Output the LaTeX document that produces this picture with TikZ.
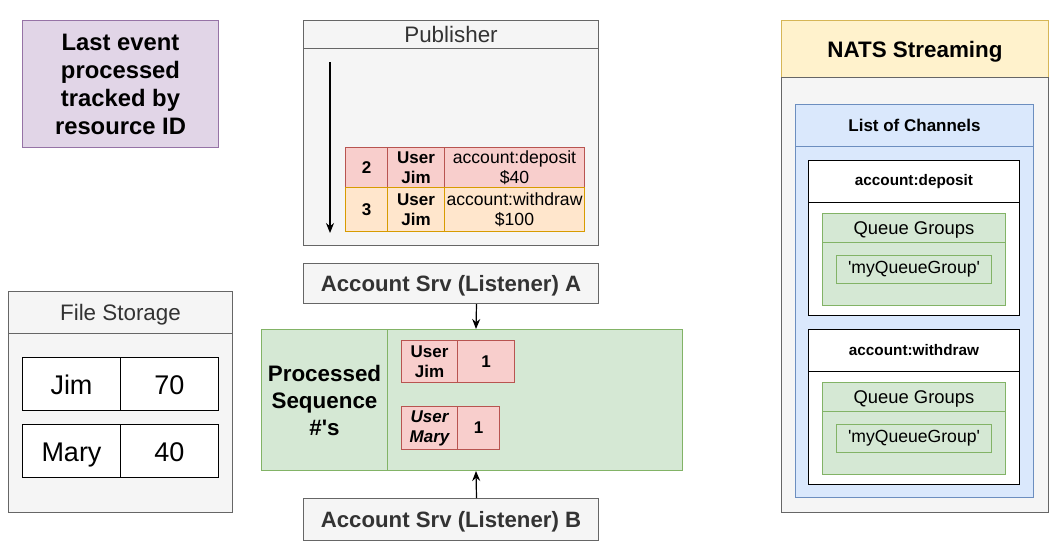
\documentclass[tikz,border=0pt]{standalone}
\usepackage{fontspec}
\setmainfont{Liberation Sans}
\usetikzlibrary{arrows.meta,calc}
\definecolor{purF}{HTML}{E1D5E7}\definecolor{purD}{HTML}{9673A6}
\definecolor{gryF}{HTML}{F5F5F5}\definecolor{gryD}{HTML}{666666}
\definecolor{redF}{HTML}{F8CECC}\definecolor{redD}{HTML}{B85450}
\definecolor{orgF}{HTML}{FFE6CC}\definecolor{orgD}{HTML}{D79B00}
\definecolor{grnF}{HTML}{D5E8D4}\definecolor{grnD}{HTML}{82B366}
\definecolor{ylwF}{HTML}{FFF2CC}\definecolor{ylwD}{HTML}{D6B656}
\definecolor{bluF}{HTML}{DAE8FC}\definecolor{bluD}{HTML}{6C8EBF}
\definecolor{txtG}{HTML}{333333}
\tikzset{
  cell/.style={draw, line width=1pt, inner sep=0pt, anchor=north west, align=center},
  purbox/.style={cell, fill=purF, draw=purD},
  grybox/.style={cell, fill=gryF, draw=gryD},
  redbox/.style={cell, fill=redF, draw=redD},
  orgbox/.style={cell, fill=orgF, draw=orgD},
  grnbox/.style={cell, fill=grnF, draw=grnD},
  ylwbox/.style={cell, fill=ylwF, draw=ylwD},
  blubox/.style={cell, fill=bluF, draw=bluD},
  whtbox/.style={cell, fill=white, draw=black},
  wh/.style 2 args={minimum width=#1pt, minimum height=#2pt},
  title/.style={font=\fontsize{22.4}{26}\selectfont, text=txtG, text height=17pt, text depth=1pt},
  srv/.style={font=\fontsize{22.2}{26}\selectfont\bfseries, text=txtG, text height=17pt, text depth=1pt},
  tbl/.style={font=\fontsize{17.6}{20}\selectfont},
  tblb/.style={font=\fontsize{17}{20}\selectfont\bfseries},
  big/.style={font=\fontsize{27}{30}\selectfont, text height=23pt, text depth=2pt},
  qg/.style={font=\fontsize{18.4}{21}\selectfont, text height=14pt, text depth=1pt},
  arrow/.style={-{Stealth[length=10pt,width=8pt]}, line width=1.2pt},
}
\begin{document}
\begin{tikzpicture}[x=1pt,y=-1pt]
\useasboundingbox (0,0) rectangle (1061,558);
\fill[white] (0,0) rectangle (1061,558);

% tracking note
\node[purbox, wh={196}{127}, font=\fontsize{23.8}{28}\selectfont\bfseries] (track) at (22,20)
  {Last event\\processed\\tracked by\\resource ID};

% Publisher
\node[grybox, wh={295}{28}, title] (pubH) at (303,20) {Publisher};
\node[grybox, wh={295}{197}] (pubB) at (303,48) {};
\node[redbox, wh={42}{40}, tblb] (e1a) at (345,147) {2};
\node[redbox, wh={57}{40}, tblb] (e1b) at (387,147) {User\\Jim};
\node[redbox, wh={140}{40}, tbl] (e1c) at (444,147) {account:deposit\\\$40};
\node[orgbox, wh={42}{44}, tblb] (e2a) at (345,187) {3};
\node[orgbox, wh={57}{44}, tblb] (e2b) at (387,187) {User\\Jim};
\node[orgbox, wh={140}{44}, tbl] (e2c) at (444,187) {account:withdraw\\\$100};
\draw[arrow] ($(pubB.north west)+(27,14)$) coordinate (ps) -- ($(pubB.south west)+(27,-13)$) coordinate (pe);

% Listener A
\node[grybox, wh={295}{40}, srv] (accA) at (303,263) {Account Srv (Listener) A};

% Processed sequences
\node[grnbox, wh={126}{141}, font=\fontsize{22.4}{27}\selectfont\bfseries] (seqL) at (261,329) {Processed\\Sequence\\\#\textquotesingle s};
\node[grnbox, wh={295}{141}] (seqR) at (387,329) {};
\node[redbox, wh={56}{42}, tblb] (sj1) at (401,340) {User\\Jim};
\node[redbox, wh={57}{42}, tblb] (sj2) at (457,340) {1};
\node[redbox, wh={56}{43}, tblb] (sm1) at (401,406) {\itshape User\\\itshape Mary};
\node[redbox, wh={42}{43}, tblb] (sm2) at (457,406) {1};

% Listener B
\node[grybox, wh={295}{42}, srv] (accB) at (303,498) {Account Srv (Listener) B};

\draw[arrow] ($(accA.south)+(25.5,0)$) -- ($(seqL.north west)+(215,0)$);
\draw[arrow] ($(accB.north)+(25.5,0)$) -- ($(seqL.south west)+(215,0)$);

% File storage
\node[grybox, wh={224}{42}, title] (fsH) at (8,291) {File Storage};
\node[grybox, wh={224}{179}] (fsB) at (8,333) {};
\node[whtbox, wh={98}{53}, big] (fj1) at (22,357) {Jim};
\node[whtbox, wh={98}{53}, big] (fj2) at (120,357) {70};
\node[whtbox, wh={98}{53}, big] (fm1) at (22,424) {Mary};
\node[whtbox, wh={98}{53}, big] (fm2) at (120,424) {40};

% NATS Streaming
\node[ylwbox, wh={267}{57}, font=\fontsize{22.4}{26}\selectfont\bfseries, text height=17pt, text depth=1pt] (natsH) at (781,20) {NATS Streaming};
\node[grybox, wh={267}{435}] (natsB) at (781,77) {};
\node[blubox, wh={238}{42}, font=\fontsize{17}{20}\selectfont\bfseries] (locH) at (795,104) {List of Channels};
\node[blubox, wh={238}{351}] (locB) at (795,146) {};

\node[whtbox, wh={211}{42}, font=\fontsize{15.3}{18}\selectfont\bfseries] (depH) at (808,160) {account:deposit};
\node[whtbox, wh={211}{113}] (depB) at (808,202) {};
\node[grnbox, wh={183}{29}, qg] (dqH) at (822,213) {Queue Groups};
\node[grnbox, wh={183}{63}] (dqB) at (822,242) {};
\node[grnbox, wh={155}{28}, tbl] (dqG) at (836,255) {\textquotesingle myQueueGroup\textquotesingle};

\node[whtbox, wh={211}{42}, font=\fontsize{15.3}{18}\selectfont\bfseries] (wdH) at (808,329) {account:withdraw};
\node[whtbox, wh={211}{113}] (wdB) at (808,371) {};
\node[grnbox, wh={183}{29}, qg] (wqH) at (822,382) {Queue Groups};
\node[grnbox, wh={183}{63}] (wqB) at (822,411) {};
\node[grnbox, wh={155}{28}, tbl] (wqG) at (836,424) {\textquotesingle myQueueGroup\textquotesingle};
\end{tikzpicture}
\end{document}
